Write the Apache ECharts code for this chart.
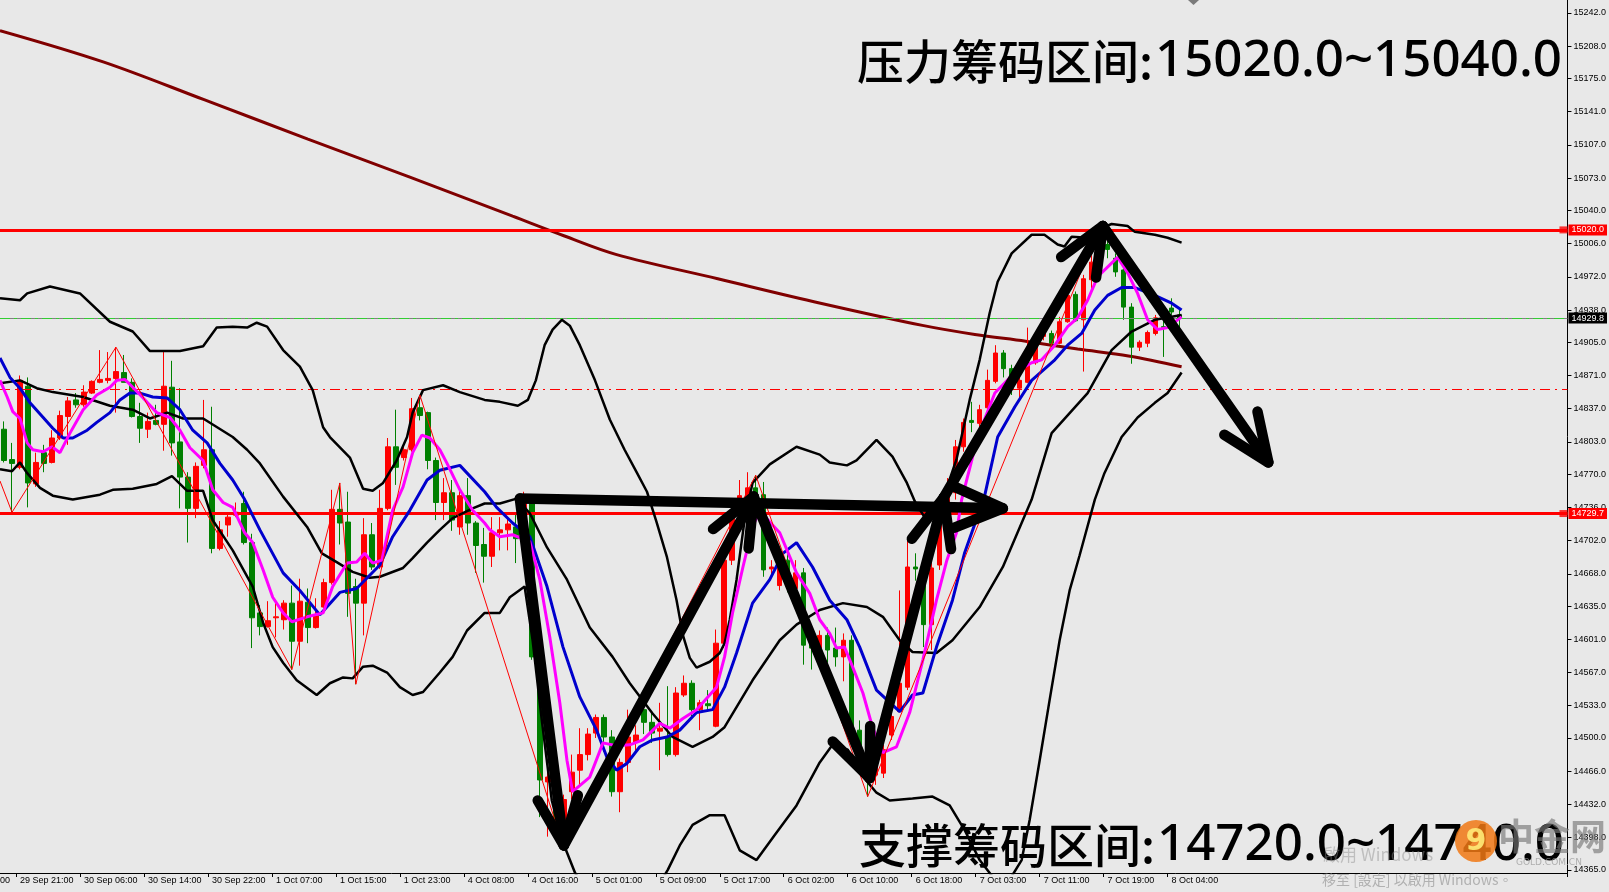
<!DOCTYPE html>
<html><head><meta charset="utf-8">
<script src="https://cdn.jsdelivr.net/npm/echarts@6/dist/echarts.min.js"></script>
<style>html,body{margin:0;padding:0;background:#e8e8e8;overflow:hidden}#c{width:1609px;height:892px}</style>
</head><body><div id="c"></div>
<script>
// ---------- DATA ----------
// hourly candles: [open, close, low, high]
const candles = [
[14816,14784,14782,14824],[14785,14781,14731,14802],[14777,14866,14775,14871],[14860,14761,14736,14869],[14760,14782,14757,14792],
[14792,14781,14772,14800],[14782,14807,14781,14815],[14807,14830,14805,14835],[14829,14845,14800,14849],[14846,14841,14838,14853],
[14841,14854,14839,14861],[14853,14865,14852,14866],[14864,14867,14863,14897],[14866,14868,14863,14895],[14868,14875,14833,14900],
[14874,14864,14864,14892],[14864,14829,14828,14868],[14829,14817,14802,14843],[14816,14824,14807,14833],[14825,14821,14820,14841],
[14821,14860,14794,14895],[14859,14802,14789,14886],[14803,14767,14735,14858],[14767,14735,14700,14772],[14735,14778,14725,14782],
[14779,14795,14776,14846],[14795,14694,14689,14839],[14694,14713,14692,14722],[14718,14726,14706,14731],[14728,14731,14726,14741],
[14740,14700,14698,14752],[14700,14623,14592,14709],[14628,14614,14605,14636],[14614,14620,14613,14640],[14623,14624,14603,14641],
[14621,14638,14611,14641],[14638,14599,14570,14656],[14599,14640,14574,14663],[14639,14613,14597,14653],[14613,14625,14612,14643],
[14634,14659,14633,14663],[14659,14734,14657,14754],[14734,14720,14698,14761],[14721,14648,14624,14752],[14655,14638,14555,14663],
[14638,14708,14605,14725],[14708,14675,14672,14720],[14675,14735,14673,14754],[14735,14798,14733,14807],[14798,14777,14759,14836],
[14787,14795,14784,14802],[14795,14837,14793,14848],[14838,14830,14825,14851],[14833,14784,14775,14834],[14784,14741,14723,14787],
[14741,14751,14723,14766],[14751,14723,14712,14764],[14716,14748,14708,14757],[14748,14720,14708,14766],[14720,14697,14669,14722],
[14698,14686,14659,14715],[14686,14710,14675,14726],[14710,14713,14692,14726],[14713,14719,14692,14726],[14716,14704,14679,14730],
[14723,14744,14718,14752],[14744,14583,14580,14747],[14583,14457,14419,14590],[14455,14460,14399,14474],[14459,14416,14401,14467],
[14406,14437,14387,14442],[14445,14465,14437,14483],[14467,14483,14450,14510],[14483,14504,14477,14510],[14505,14521,14500,14524],
[14521,14501,14486,14524],[14501,14445,14440,14508],[14445,14475,14424,14479],[14475,14501,14465,14529],[14496,14503,14487,14513],
[14529,14516,14504,14537],[14516,14505,14495,14526],[14507,14510,14467,14536],[14501,14483,14481,14553],[14483,14546,14481,14552],
[14544,14556,14542,14564],[14556,14529,14522,14559],[14529,14536,14508,14539],[14535,14533,14527,14549],[14512,14597,14511,14611],
[14597,14682,14592,14698],[14682,14733,14677,14744],[14733,14748,14728,14764],[14746,14756,14743,14772],[14756,14749,14743,14769],
[14749,14672,14665,14762],[14673,14675,14667,14682],[14656,14682,14651,14687],[14682,14656,14649,14690],[14653,14669,14649,14682],
[14669,14595,14575,14674],[14600,14592,14570,14615],[14592,14605,14588,14610],[14605,14590,14577,14613],[14592,14583,14573,14613],
[14583,14600,14558,14607],[14600,14508,14503,14605],[14508,14481,14478,14518],[14481,14462,14440,14493],[14462,14472,14452,14483],
[14464,14488,14459,14493],[14503,14522,14498,14527],[14527,14556,14526,14651],[14552,14675,14549,14703],[14675,14673,14661,14689],
[14662,14616,14593,14664],[14616,14674,14590,14687],[14677,14733,14672,14744],[14733,14751,14731,14766],[14751,14798,14744,14805],
[14798,14823,14793,14827],[14825,14823,14813,14844],[14822,14836,14817,14841],[14838,14866,14835,14877],[14865,14894,14863,14902],
[14894,14878,14869,14897],[14878,14858,14851,14882],[14858,14866,14848,14871],[14864,14884,14863,14920],[14884,14907,14882,14912],
[14911,14914,14907,14920],[14914,14904,14900,14917],[14904,14926,14903,14931],[14926,14953,14925,14963],[14954,14927,14926,14957],
[14928,14970,14875,14974],[14969,14987,14959,14994],[14987,15005,14981,15024],[15005,15000,14991,15009],[14991,14977,14972,14996],
[14979,14941,14928,14981],[14941,14900,14883,14945],[14900,14905,14896,14907],[14904,14915,14900,14917],[14914,14930,14912,14933],
[14921,14920,14890,14928],[14940,14936,14933,14950],[14933,14929.8,14920,14940]
];
const barSlots = 196; // bars + empty right-side shift area

// time labels: [bar index, text]
const timeLabels = [[2,'29 Sep 21:00'],[10,'30 Sep 06:00'],[18,'30 Sep 14:00'],[26,'30 Sep 22:00'],[34,'1 Oct 07:00'],
[42,'1 Oct 15:00'],[50,'1 Oct 23:00'],[58,'4 Oct 08:00'],[66,'4 Oct 16:00'],[74,'5 Oct 01:00'],[82,'5 Oct 09:00'],
[90,'5 Oct 17:00'],[98,'6 Oct 02:00'],[106,'6 Oct 10:00'],[114,'6 Oct 18:00'],[122,'7 Oct 03:00'],[130,'7 Oct 11:00'],
[138,'7 Oct 19:00'],[146,'8 Oct 04:00']];
const priceTicks = [15242,15208,15175,15141,15107,15073,15040,15006,14972,14938,14905,14871,14837,14803,14770,14736,
14702,14668,14635,14601,14567,14533,14500,14466,14432,14398,14365];
const priceMin = 14361.8, priceMax = 15255.3;

// indicator lines: [bar index, price]
const maSlow = [[-0.5,15224],[12.4,15192],[25.1,15153],[38,15113],[50.75,15074],[63.6,15034],[70,15014],[76.5,14995],
[89.25,14970],[102.1,14945],[115,14922],[121.4,14913],[127.75,14906],[134.25,14898],[140.6,14891],[147.25,14880]];
const maFast = [[-0.5,14866],[0.4,14849],[1.1,14834],[2,14827],[2.9,14802],[3.6,14795],[4.9,14793],[6,14798],[7,14792],
[8.25,14812],[9.9,14836],[11.6,14851],[13.25,14859],[14.1,14866],[15.1,14867],[16.1,14859],[17.4,14848],[19.1,14833],
[20.75,14828],[22,14815],[23.25,14797],[24.9,14784],[26.1,14754],[27.4,14741],[28.6,14736],[30.1,14710],[31.1,14700],
[32.4,14672],[33.6,14644],[34.9,14628],[36,14619],[37.9,14624],[39.9,14628],[41.1,14655],[42.9,14679],[44.1,14680],
[45.1,14689],[46.1,14679],[47.25,14682],[48.6,14733],[49.9,14757],[51.1,14792],[52.25,14810],[53.25,14807],[54.5,14795],
[55.4,14781],[57,14754],[58.6,14733],[60.1,14720],[60.75,14713],[62,14706],[63.6,14708],[65.75,14701],[67,14662],
[68.25,14603],[69.5,14536],[70.4,14477],[71.1,14445],[73.25,14460],[74.9,14495],[76.6,14492],[78.25,14493],[79.9,14498],
[82,14515],[83.25,14510],[84.9,14520],[86.6,14529],[89.1,14552],[90.1,14583],[91.1,14628],[92.4,14675],[93.6,14716],
[94.5,14733],[95.75,14721],[97,14710],[99.1,14669],[100.75,14648],[102,14621],[103.25,14607],[104.1,14592],[105.1,14593],
[106.1,14573],[107.4,14546],[108.6,14511],[109.9,14485],[111.6,14491],[113.25,14526],[114.9,14580],[116.6,14641],
[117.9,14682],[119.1,14710],[119.75,14744],[121.75,14808],[123.9,14853],[126.4,14874],[128.5,14884],[129.75,14887],
[131.4,14902],[133,14921],[134.25,14930],[135.5,14948],[136.75,14972],[138.5,14986],[139.25,14992],[140.5,14976],
[141.75,14955],[143,14928],[144.25,14918],[145.5,14920],[147.25,14931]];
const maMid = [[-0.5,14889],[0.75,14869],[2,14858],[3.25,14843],[4.9,14828],[6.1,14817],[7.4,14807],[8.6,14807],[10.4,14815],
[11.6,14823],[13.25,14833],[14.5,14846],[15.75,14853],[17,14853],[18.6,14849],[20.4,14848],[22,14836],[23.6,14815],
[25.4,14802],[27,14781],[28.6,14764],[30.1,14744],[32,14713],[34.9,14669],[37,14651],[39.5,14626],[42,14649],[44.1,14653],
[47,14677],[48.6,14706],[50.75,14733],[52.9,14764],[54.5,14774],[57,14779],[60.1,14752],[61.6,14736],[63.6,14720],
[65.75,14706],[67.9,14655],[69.9,14593],[72,14542],[74.1,14508],[75.4,14480],[76.6,14467],[77.9,14474],[79.5,14491],
[81.1,14498],[82.9,14501],[84.5,14508],[86.6,14526],[88.6,14529],[90.1,14552],[91.6,14587],[93.6,14638],[95.75,14662],
[97.4,14689],[99.1,14700],[101.1,14675],[103.25,14641],[105.4,14621],[107,14593],[109.1,14549],[112,14527],[113.6,14544],
[114.9,14546],[116.6,14593],[118.6,14641],[120.1,14689],[122.6,14747],[124.25,14808],[126.4,14839],[128.5,14866],
[131.4,14887],[133,14902],[134.75,14914],[136.4,14938],[138,14953],[139.75,14961],[141.4,14961],[143.9,14953],[146,14945],
[147.25,14938]];
const bbUpper = [[-0.5,14950],[2,14948],[2.9,14955],[5.75,14962],[9.5,14955],[13.25,14926],[16.1,14916],[18.25,14896],
[22,14896],[24.9,14901],[26.6,14920],[28.6,14921],[30.4,14920],[31.6,14925],[32.9,14921],[34.9,14897],[37,14880],
[38.6,14856],[39.9,14818],[40.75,14808],[43.25,14787],[44.9,14755],[46.1,14753],[47.4,14761],[49.1,14784],[50.4,14808],
[51.1,14833],[52.4,14856],[54.9,14861],[57,14854],[60.1,14846],[62,14844],[64.25,14840],[65.5,14846],[66.5,14866],
[67.6,14902],[68.6,14918],[69.75,14928],[70.75,14922],[72,14902],[73.9,14866],[75.75,14826],[77.6,14795],[79.1,14772],
[80.4,14752],[81.6,14721],[82.9,14685],[84.1,14641],[84.9,14605],[85.75,14582],[86.6,14572],[88.25,14578],[89.5,14587],
[90.1,14597],[90.75,14621],[91.6,14662],[92.6,14723],[93.6,14761],[95.75,14780],[99.1,14798],[102,14790],[103.25,14782],
[105.4,14779],[106.6,14784],[109.1,14805],[111.1,14788],[112.9,14761],[113.9,14742],[115.1,14726],[116.4,14726],
[117.6,14749],[119.1,14785],[120.75,14846],[122,14887],[123.25,14935],[124.25,14967],[126,14996],[128.5,15015],
[130.1,15015],[131.75,15005],[132.6,15003],[133.5,15013],[135.5,15012],[137.25,15022],[138.5,15026],[140.5,15024],
[141.4,15018],[143.9,15015],[145.5,15012],[147.25,15007]];
const bbMiddle = [[-0.5,14863],[2,14866],[4.1,14858],[6.1,14854],[9.9,14849],[13.25,14840],[16.1,14836],[18.25,14827],
[20.4,14833],[22.4,14827],[24.9,14827],[28.6,14808],[30.4,14795],[32,14781],[34.9,14747],[37.9,14716],[39.75,14689],
[41.6,14680],[43.6,14670],[45.75,14664],[47,14665],[49.9,14674],[51.1,14684],[52.9,14700],[54.5,14713],[56.1,14725],
[58.6,14735],[60.1,14740],[62,14740],[64.1,14745],[65.75,14730],[67.9,14695],[70.4,14662],[73.25,14613],[76.1,14583],
[78.25,14556],[81.1,14525],[83.6,14501],[86.1,14491],[88.6,14501],[90.1,14511],[93.6,14559],[97,14600],[99.1,14616],
[102,14631],[104.9,14638],[107.9,14634],[109.9,14624],[112,14600],[113.6,14588],[116.6,14587],[118.6,14600],[122,14634],
[124.9,14675],[128.5,14744],[131,14812],[135.5,14853],[138.5,14897],[141,14916],[143.9,14928],[147.25,14933]];
const bbLower = [[-0.5,14775],[1,14773],[2,14782],[2.9,14771],[4.5,14756],[6.1,14748],[8.6,14744],[12,14749],[13.6,14754],
[16.1,14755],[19.1,14760],[21,14768],[22.9,14753],[24.9,14753],[26.1,14723],[28.6,14692],[31.1,14655],[32.4,14618],
[33.6,14593],[34.9,14577],[36.6,14559],[39.1,14544],[40.75,14556],[42.4,14562],[43.6,14561],[44.9,14573],[46.1,14574],
[47.9,14567],[49.5,14552],[51.1,14544],[52.4,14547],[54.5,14567],[56.1,14583],[57.9,14610],[60.1,14628],[62,14628],
[63.25,14644],[65.1,14655],[66.1,14600],[67.25,14518],[68.5,14436],[69.75,14396],[71.4,14362],[73.25,14339],[77,14329],
[80.75,14334],[83,14365],[84.5,14390],[86.1,14411],[88.25,14421],[90.1,14421],[92,14385],[94.1,14375],[96.4,14401],
[99.1,14431],[102,14475],[103.6,14493],[105.5,14488],[107.25,14462],[109.1,14444],[110.75,14436],[113.6,14438],
[116.1,14440],[118.25,14431],[120.1,14406],[122,14375],[123.9,14355],[125.75,14355],[127.25,14375],[128.25,14416],
[129.5,14477],[130.75,14539],[132,14600],[133.25,14651],[134.5,14687],[136.4,14744],[137.6,14771],[139.75,14808],
[141.75,14828],[143.9,14843],[145.5,14853],[147.25,14874]];
const zigzag = [[-0.5,14763],[1,14731],[14,14900],[36,14570],[42,14761],[44,14555],[52,14851],[70,14387],[94,14769],
[108,14440],[137,15024]];

// levels
const resistanceLevel = 15020.0;
const supportLevel = 14729.7;
const lastPrice = 14929.8;
const dashLevel = 14857;
const levelMarkerBar = 195; // small square drawn at the right end of each level line

// hand-drawn arrows: [fromBar, fromPrice, toBar, toPrice]
const arrows = [[64.5,14745,70,14390],[70,14390,93.75,14747],[64.5,14745,124.9,14735],[93.75,14747,108.25,14459],
[108.25,14459,117.5,14746],[117.5,14746,137.4,15024],[137.4,15024,158.1,14782]];

// annotation texts
const resistLabel = '压力筹码区间:', resistRange = '15020.0~15040.0';
const supportLabel = '支撑筹码区间:', supportRange = '14720.0~14740.0';

// ---------- CHART ----------
const cats = Array.from({length: barSlots}, (_, i) => String(i));
const labelMap = {};
timeLabels.forEach(([i, t]) => { labelMap[i] = t; });
const AX_FONT = '"Liberation Sans", Arial, sans-serif';

function lineSeries(data, color, width, z, smooth) {
  return {type:'line', xAxisIndex:1, yAxisIndex:0, data, showSymbol:false, symbol:'none', z, smooth: smooth || false,
    lineStyle:{color, width}, silent:true, clip:true};
}

function renderArrow(params, api) {
  const a = api.coord([api.value(0), api.value(1)]);
  const b = api.coord([api.value(2), api.value(3)]);
  const ang = Math.atan2(a[1]-b[1], a[0]-b[0]);
  const L = 52, sp = 0.4;
  const l1 = [b[0] + L*Math.cos(ang+sp), b[1] + L*Math.sin(ang+sp)];
  const l2 = [b[0] + L*Math.cos(ang-sp), b[1] + L*Math.sin(ang-sp)];
  const st = {stroke:'#000', lineWidth:10.5, lineCap:'round', lineJoin:'round', fill:null};
  return {type:'group', children:[
    {type:'polyline', shape:{points:[a,b]}, style:st},
    {type:'polyline', shape:{points:[l1,b,l2]}, style:st}
  ]};
}

function levelLine(value, color, width, type, labelBg) {
  const item = {yAxis:value, lineStyle:{color, width, type}};
  if (labelBg) {
    item.label = {show:true, position:'end', formatter:value.toFixed(1), color:'#fff', backgroundColor:labelBg,
      padding:[1,3,1,3], fontSize:9, fontFamily:AX_FONT, distance:1};
  } else {
    item.label = {show:false};
  }
  return item;
}

const CJK_FONT = '500 47px "Noto Sans CJK SC"';
const NUM_FONT = '500 51px "Noto Sans", "Open Sans", sans-serif';

const chart = echarts.init(document.getElementById('c'));
chart.setOption({
  animation:false,
  backgroundColor:'#e8e8e8',
  grid:{left:0, right:41, top:0, bottom:19},
  xAxis:[
    {type:'category', data:cats, boundaryGap:true,
     axisLine:{lineStyle:{color:'#000', width:1}},
     axisTick:{show:true, interval:(i) => labelMap[i] !== undefined, length:4, lineStyle:{color:'#000'}},
     axisLabel:{interval:(i) => labelMap[i] !== undefined, formatter:(v, i) => labelMap[i] || '',
       align:'left', fontSize:9, color:'#000', margin:3, fontFamily:AX_FONT},
     splitLine:{show:false}},
    {type:'value', min:-0.5, max:barSlots-0.5, show:false}
  ],
  yAxis:{type:'value', position:'right', min:priceMin, max:priceMax,
    axisLine:{show:true, onZero:false, lineStyle:{color:'#000', width:1}},
    axisTick:{show:true, length:4, customValues:priceTicks, lineStyle:{color:'#000'}},
    axisLabel:{customValues:priceTicks, formatter:(v) => Number(v).toFixed(1), fontSize:9, color:'#000', margin:6, fontFamily:AX_FONT},
    splitLine:{show:false}},
  series:[
    lineSeries(maSlow, '#800000', 3, 3, 0.35),
    {type:'candlestick', xAxisIndex:0, yAxisIndex:0, data:candles, barWidth:5, z:4, silent:true,
     itemStyle:{color:'#ff0000', color0:'#008000', borderColor:'#ff0000', borderColor0:'#008000', borderWidth:1}},
    lineSeries(bbUpper, '#000000', 2.5, 5),
    lineSeries(bbMiddle, '#000000', 2.5, 5),
    lineSeries(bbLower, '#000000', 2.5, 5),
    lineSeries(maMid, '#0000cd', 3, 6),
    lineSeries(maFast, '#ff00ff', 3, 7),
    lineSeries(zigzag, '#ff0000', 1, 8),
    {type:'line', xAxisIndex:1, yAxisIndex:0, data:[], z:9, silent:true, symbol:'none',
     markLine:{silent:true, animation:false, symbol:'none',
       data:[
         levelLine(dashLevel, '#ff0000', 1, [10,5,2,5], null),
         levelLine(lastPrice, '#808080', 1, 'solid', '#000000'),
         levelLine(lastPrice, '#32cd32', 1, [10,4,3,4], null),
         levelLine(resistanceLevel, '#ff0000', 3, 'solid', '#ff0000'),
         levelLine(supportLevel, '#ff0000', 3, 'solid', '#ff0000')
       ]}},
    {type:'scatter', xAxisIndex:1, yAxisIndex:0, z:10, silent:true, symbol:'rect', symbolSize:[8,7],
     itemStyle:{color:'#ff0000'},
     data:[[levelMarkerBar, resistanceLevel],[levelMarkerBar, supportLevel]]},
    {type:'custom', xAxisIndex:1, yAxisIndex:0, data:arrows, renderItem:renderArrow, z:20, silent:true,
     encode:{x:[0,2], y:[1,3]}, clip:false}
  ],
  graphic:[
    {type:'text', x:857, y:61, z:100, style:{text:resistLabel, font:CJK_FONT, fill:'#000', textAlign:'left', textVerticalAlign:'middle'}},
    {type:'text', x:1562, y:61, z:100, style:{text:resistRange, font:NUM_FONT, fill:'#000', textAlign:'right', textVerticalAlign:'middle'}},
    {type:'text', x:859, y:845, z:100, style:{text:supportLabel, font:CJK_FONT, fill:'#000', textAlign:'left', textVerticalAlign:'middle'}},
    {type:'text', x:1564, y:845, z:100, style:{text:supportRange, font:NUM_FONT, fill:'#000', textAlign:'right', textVerticalAlign:'middle'}},
    {type:'text', x:0, y:876, z:50, style:{text:'00', font:'9px "Liberation Sans"', fill:'#000', textVerticalAlign:'top'}},
    {type:'polygon', z:50, shape:{points:[[1188,0],[1199,0],[1193.5,5]]}, style:{fill:'#7a7a7a'}},
    {type:'circle', z:110, shape:{cx:1476, cy:841, r:21}, style:{fill:'rgba(240,120,20,0.85)'}},
    {type:'text', x:1476, y:842, z:111, style:{text:'9', font:'bold 30px "DejaVu Sans"', fill:'rgba(255,235,120,0.9)',
      textAlign:'center', textVerticalAlign:'middle'}},
    {type:'text', x:1498, y:836, z:110, style:{text:'中金网', font:'bold 36px "Noto Sans CJK SC"', fill:'rgba(120,120,120,0.65)',
      textVerticalAlign:'middle'}},
    {type:'text', x:1516, y:863, z:110, style:{text:'GOLD.COM.CN', font:'9px "DejaVu Sans"', fill:'rgba(150,150,150,0.7)',
      textVerticalAlign:'middle'}},
    {type:'text', x:1323, y:855, z:110, style:{text:'啟用 Windows', font:'17px "Noto Sans CJK TC"', fill:'rgba(140,140,140,0.45)',
      textVerticalAlign:'middle'}},
    {type:'text', x:1322, y:880, z:110, style:{text:'移至 [設定] 以啟用 Windows。', font:'14px "Noto Sans CJK TC"', fill:'rgba(140,140,140,0.6)',
      textVerticalAlign:'middle'}}
  ]
});
</script>
</body></html>
